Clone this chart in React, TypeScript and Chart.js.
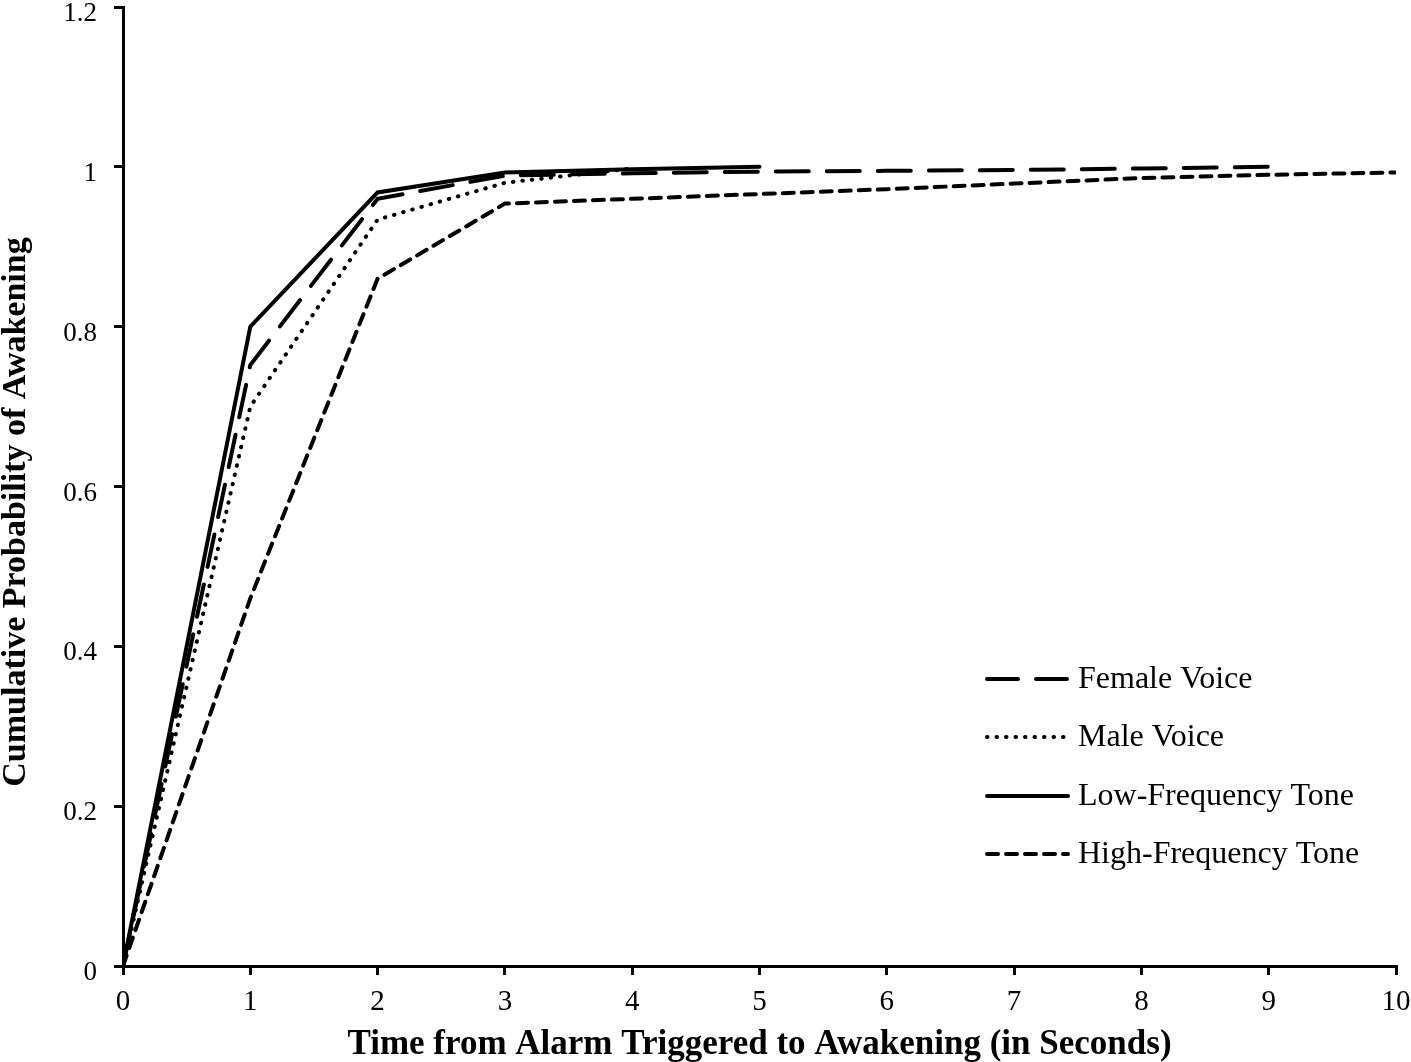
import { useEffect, useRef } from "react";
import { Chart, registerables } from "chart.js";

Chart.register(...registerables);

const xValues = [0, 1, 2, 3, 4, 5, 6, 7, 8, 9, 10];
const femaleVoice = [0, 0.752, 0.96, 0.989, 0.992, 0.994, 0.995, 0.996, 0.998, 1.0];
const maleVoice = [0, 0.7, 0.934, 0.98, 0.998];
const lowFreqTone = [0, 0.8, 0.968, 0.993, 0.997, 1.0];
const highFreqTone = [0, 0.46, 0.86, 0.954, 0.96, 0.966, 0.972, 0.979, 0.986, 0.99, 0.993];
const yTicks = [0, 0.2, 0.4, 0.6, 0.8, 1, 1.2];
const seriesNames = ["Female Voice", "Male Voice", "Low-Frequency Tone", "High-Frequency Tone"];

const FONT = "'Liberation Serif', 'Times New Roman', serif";

const toPoints = (vals: number[]) => vals.map((v, i) => ({ x: xValues[i], y: v }));

const legendPlugin = {
  id: "customLegend",
  afterDraw(chart: any) {
    const ctx = chart.ctx;
    const x0 = 987;
    const x1 = 1068;
    const rows = [679, 737, 796, 854];
    chart.data.datasets.forEach((ds: any, i: number) => {
      const y = rows[i];
      ctx.save();
      ctx.strokeStyle = "#000";
      ctx.lineWidth = ds.borderWidth;
      ctx.lineCap = ds.borderCapStyle || "butt";
      ctx.setLineDash(ds.legendDash || ds.borderDash || []);
      ctx.beginPath();
      ctx.moveTo(x0, y);
      ctx.lineTo(x1, y);
      ctx.stroke();
      ctx.setLineDash([]);
      ctx.fillStyle = "#000";
      ctx.font = `32px ${FONT}`;
      ctx.textBaseline = "middle";
      ctx.textAlign = "left";
      ctx.fillText(ds.label, 1078, y + 1);
      ctx.restore();
    });
  },
};

export default function App() {
  const ref = useRef<HTMLCanvasElement>(null);
  useEffect(() => {
    if (!ref.current) return;
    const chart = new Chart(ref.current, {
      type: "line",
      data: {
        datasets: [
          {
            label: seriesNames[0],
            data: toPoints(femaleVoice),
            borderColor: "#000",
            borderWidth: 4,
            borderDash: [33, 18],
            legendDash: [31, 18],
            borderCapStyle: "round",
            pointRadius: 0,
            tension: 0,
          } as any,
          {
            label: seriesNames[1],
            data: toPoints(maleVoice),
            borderColor: "#000",
            borderWidth: 4,
            borderDash: [0.5, 9],
            borderCapStyle: "round",
            pointRadius: 0,
            tension: 0,
          },
          {
            label: seriesNames[2],
            data: toPoints(lowFreqTone),
            borderColor: "#000",
            borderWidth: 4,
            borderCapStyle: "round",
            pointRadius: 0,
            tension: 0,
          },
          {
            label: seriesNames[3],
            data: toPoints(highFreqTone),
            borderColor: "#000",
            borderWidth: 4,
            borderDash: [11, 8],
            borderCapStyle: "round",
            pointRadius: 0,
            tension: 0,
          },
        ],
      },
      options: {
        animation: false,
        responsive: false,
        maintainAspectRatio: false,
        layout: { padding: { top: 7, right: 15, left: 0, bottom: 0 } },
        plugins: { legend: { display: false }, tooltip: { enabled: false } },
        scales: {
          x: {
            type: "linear",
            min: 0,
            max: 10,
            afterFit: (s: any) => {
              s.height = 96;
              s.paddingLeft = 0;
              s.paddingRight = 0;
            },
            afterBuildTicks: (s: any) => {
              s.ticks = xValues.map((v) => ({ value: v }));
            },
            ticks: {
              color: "#000",
              font: { family: FONT, size: 29 },
              padding: 10,
              callback: (v: any) => String(v),
            },
            grid: {
              drawOnChartArea: false,
              drawTicks: true,
              tickLength: 9,
              color: "#000",
              lineWidth: 3,
            },
            border: { color: "#000", width: 3 },
            title: {
              display: true,
              text: "Time from Alarm Triggered to Awakening (in Seconds)",
              color: "#000",
              font: { family: FONT, size: 35, weight: "bold", lineHeight: 1 },
              padding: { top: 0, bottom: 0 },
            },
          },
          y: {
            type: "linear",
            min: 0,
            max: 1.2,
            afterFit: (s: any) => {
              s.width = 123;
              s.paddingTop = 0;
              s.paddingBottom = 0;
            },
            afterBuildTicks: (s: any) => {
              s.ticks = yTicks.map((v) => ({ value: v }));
            },
            ticks: {
              color: "#000",
              font: { family: FONT, size: 27 },
              padding: 17,
              labelOffset: 7,
              callback: (v: any) => String(Math.round(Number(v) * 10) / 10),
            },
            grid: {
              drawOnChartArea: false,
              drawTicks: true,
              tickLength: 9,
              color: "#000",
              lineWidth: 3,
            },
            border: { color: "#000", width: 3 },
            title: {
              display: true,
              text: "Cumulative Probability of Awakening      ",
              color: "#000",
              font: { family: FONT, size: 34, weight: "bold", lineHeight: 1 },
              padding: { top: -1, bottom: 0 },
            },
          },
        },
      },
      plugins: [legendPlugin],
    });
    return () => chart.destroy();
  }, []);
  return (
    <div style={{ position: "fixed", left: 0, top: 0, width: 1411, height: 1062, background: "#fff" }}>
      <canvas ref={ref} width={1411} height={1062} style={{ width: 1411, height: 1062 }} />
    </div>
  );
}
